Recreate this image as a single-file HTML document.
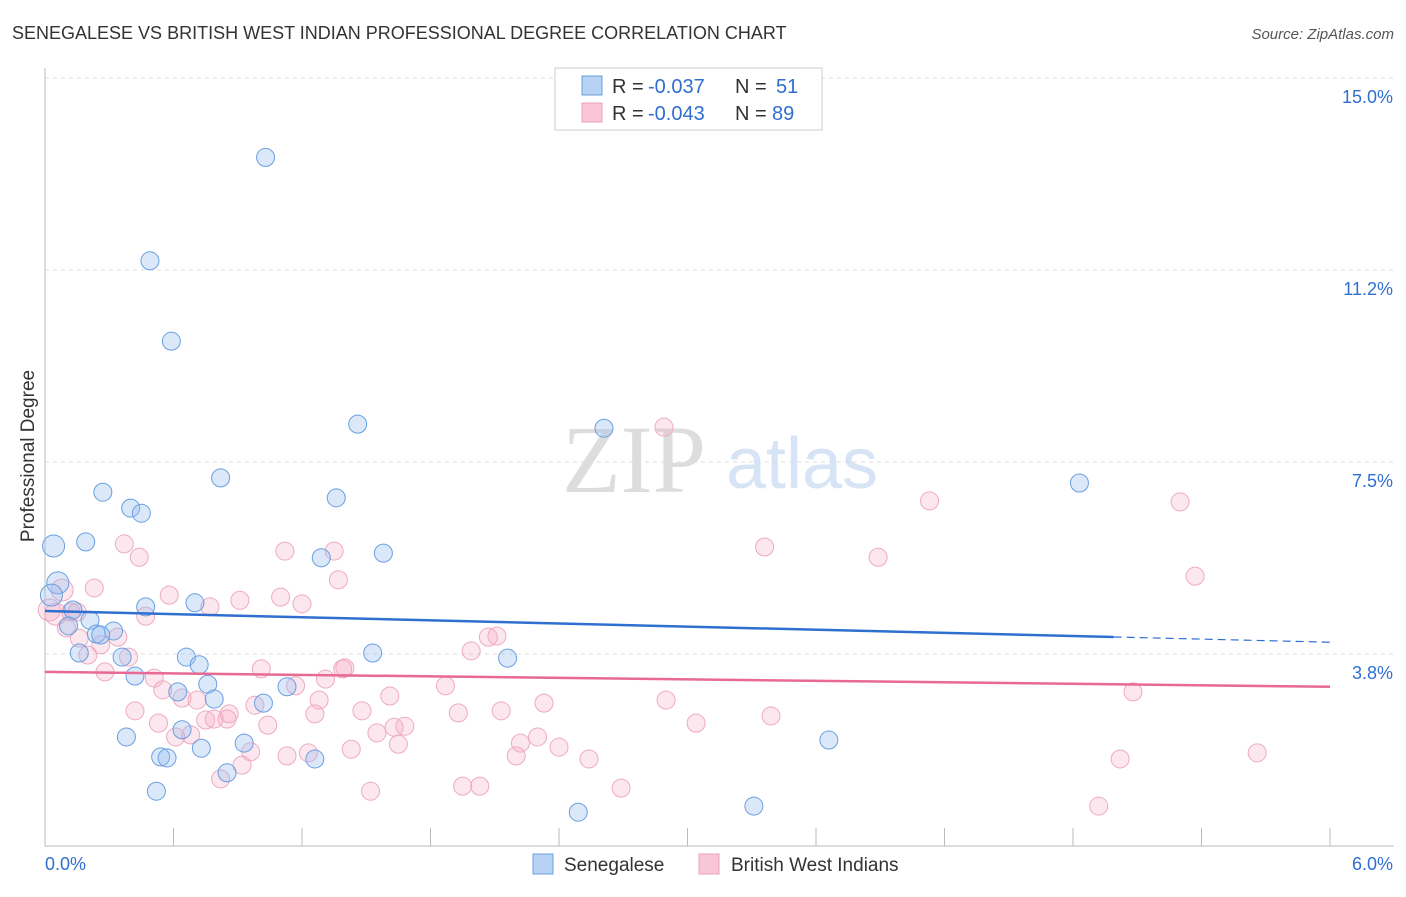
<!DOCTYPE html>
<html><head><meta charset="utf-8"><style>
body{margin:0;background:#fff;font-family:"Liberation Sans",sans-serif}
</style></head><body>
<svg id="chart" width="1406" height="892" font-family="Liberation Sans, sans-serif">
<text x="12" y="39" font-size="18" fill="#333">SENEGALESE VS BRITISH WEST INDIAN PROFESSIONAL DEGREE CORRELATION CHART</text>
<text x="1394" y="39" font-size="15" fill="#555" font-style="italic" text-anchor="end">Source: ZipAtlas.com</text>
<text x="0" y="0" transform="translate(34,456) rotate(-90)" font-size="19" fill="#333" text-anchor="middle">Professional Degree</text>
<g><text x="634" y="492" font-size="96" fill="#ddd" style="font-family:'Liberation Serif',serif" text-anchor="middle">ZIP</text><text x="802" y="488" font-size="72" fill="#d6e4f5" text-anchor="middle">atlas</text></g>
<g id="grid"></g><g id="axes"></g><g id="pts"></g><g id="trend"></g>
<g>
<rect x="555" y="68" width="267" height="62" fill="#fff" stroke="#ccc"/>
<rect x="582" y="76" width="20" height="19" fill="#b8d2f4" stroke="#6a9fe0"/>
<rect x="582" y="103" width="20" height="19" fill="#f8c6d6" stroke="#eaa0b8"/>
<text y="93" font-size="20" fill="#333"><tspan x="612">R =</tspan><tspan x="648" fill="#2f6fd0">-0.037</tspan><tspan x="735">N =</tspan><tspan x="776" fill="#2f6fd0">51</tspan></text>
<text y="120" font-size="20" fill="#333"><tspan x="612">R =</tspan><tspan x="648" fill="#2f6fd0">-0.043</tspan><tspan x="735">N =</tspan><tspan x="772" fill="#2f6fd0">89</tspan></text>
</g>
<g>
<rect x="533" y="854" width="20" height="20" fill="#b8d2f4" stroke="#6a9fe0"/>
<text x="564" y="871" font-size="19" fill="#333">Senegalese</text>
<rect x="699" y="854" width="20" height="20" fill="#f8c6d6" stroke="#eaa0b8"/>
<text x="731" y="871" font-size="19" fill="#333">British West Indians</text>
</g>
</svg>
<script>
const yTicks=[3.8,7.5,11.2,15.0];
const yTickVals=[3.75,7.5,11.25,15];
const xLabels=["0.0%","6.0%"];
const blueX=[1.03,0.49,0.59,1.46,2.61,0.82,4.83,0.27,1.36,0.40,0.45,0.04,0.19,1.58,1.29,0.06,0.03,0.13,0.47,0.70,0.21,0.11,0.24,0.32,0.26,0.16,0.36,0.66,1.53,2.16,0.72,0.42,0.76,1.13,0.62,0.79,1.02,0.64,0.38,0.93,3.66,0.73,0.54,0.57,1.26,0.85,0.52,2.49,3.31];
const blueY=[13.45,11.43,9.86,8.24,8.16,7.19,7.09,6.91,6.80,6.60,6.50,5.86,5.94,5.72,5.63,5.14,4.90,4.61,4.67,4.75,4.41,4.30,4.14,4.20,4.12,3.77,3.69,3.69,3.77,3.67,3.54,3.32,3.16,3.11,3.01,2.87,2.79,2.27,2.13,2.01,2.07,1.91,1.74,1.72,1.70,1.43,1.07,0.66,0.78];
const pinkX=[2.89,4.13,5.30,3.36,3.89,5.37,0.37,0.44,1.12,1.35,1.37,0.23,0.08,0.58,0.91,1.10,1.20,0.77,0.47,0.02,0.05,0.12,0.15,0.10,0.34,0.16,0.26,2.11,2.07,1.99,0.20,0.39,0.28,1.01,1.40,1.39,1.31,0.51,1.17,0.55,1.87,1.61,0.64,0.71,1.28,2.90,5.08,2.33,0.42,0.86,0.98,1.48,2.13,1.93,1.26,0.75,0.79,0.85,0.53,1.04,3.04,3.39,1.68,1.63,1.55,2.30,0.61,0.68,2.22,2.40,1.65,1.43,0.96,1.23,1.13,0.92,2.20,2.54,5.02,5.66,0.82,1.95,2.03,1.52,2.69,4.92];
const pinkY=[8.18,6.74,6.72,5.84,5.64,5.27,5.90,5.64,5.76,5.76,5.20,5.04,5.00,4.90,4.80,4.86,4.73,4.67,4.49,4.61,4.53,4.57,4.57,4.26,4.08,4.06,3.93,4.10,4.08,3.81,3.73,3.69,3.40,3.46,3.48,3.46,3.26,3.28,3.13,3.05,3.13,2.93,2.89,2.85,2.85,2.85,3.01,2.79,2.64,2.58,2.75,2.64,2.64,2.60,2.58,2.46,2.48,2.48,2.40,2.36,2.40,2.54,2.34,2.32,2.21,2.13,2.13,2.17,2.01,1.93,1.99,1.89,1.84,1.82,1.76,1.58,1.76,1.70,1.70,1.82,1.31,1.17,1.17,1.07,1.13,0.78];
const blueTrend=[4.59,3.98];
const pinkTrend=[3.40,3.11];
const NS="http://www.w3.org/2000/svg";
const X0=45,X1=1330,Y0=846,YT=78;
const sx=v=>X0+v/6*(X1-X0);
const sy=v=>Y0-v/15*(Y0-YT);
function mk(tag,attrs,parent){const e=document.createElementNS(NS,tag);for(const k in attrs)e.setAttribute(k,attrs[k]);document.getElementById(parent).appendChild(e);return e;}
yTickVals.forEach((v,i)=>{
 const g=mk('line',{x1:X0,x2:1394,y1:sy(v),y2:sy(v),stroke:'#ddd','stroke-dasharray':'4,4'},'grid');
 
 
 const t=mk('text',{x:1393,y:sy(v)+25,'font-size':18,fill:'#2f6fd0','text-anchor':'end'},'grid');
 t.textContent=yTicks[i].toFixed(1)+'%';
 
 
});
const la=mk('line',{x1:X0,x2:X0,y1:68,y2:Y0,stroke:'#bbb'},'axes');


const ba=mk('line',{x1:X0,x2:1394,y1:Y0,y2:Y0,stroke:'#bbb'},'axes');


for(let i=0;i<=10;i++){const t=mk('line',{x1:sx(i*0.6),x2:sx(i*0.6),y1:828,y2:Y0,stroke:'#bbb'},'axes');
 
 }
[[0,'start',45],[6,'end',1393]].forEach((a,i)=>{const t=mk('text',{x:a[2],y:870,'font-size':18,fill:'#2f6fd0','text-anchor':a[1]},'axes');t.textContent=xLabels[i];
 
 });
pinkX.forEach((v,i)=>{const c=mk('circle',{cx:sx(v),cy:sy(pinkY[i]),r:(v<0.1?11:9),fill:'rgba(245,170,195,0.28)',stroke:'#eeaac2','stroke-width':1},'pts');
 
 });
blueX.forEach((v,i)=>{const c=mk('circle',{cx:sx(v),cy:sy(blueY[i]),r:(v<0.1?11:9),fill:'rgba(150,190,240,0.35)',stroke:'#6a9fe0','stroke-width':1},'pts');
 
 });
const bEnd=4.99, bMid=blueTrend[0]+(blueTrend[1]-blueTrend[0])*bEnd/6;
const l1=mk('line',{x1:sx(0),y1:sy(blueTrend[0]),x2:sx(bEnd),y2:sy(bMid),stroke:'#2f6fd0','stroke-width':2.5},'trend');


const l2=mk('line',{x1:sx(bEnd),y1:sy(bMid),x2:sx(6),y2:sy(blueTrend[1]),stroke:'#2f6fd0','stroke-width':1.2,'stroke-dasharray':'8,5'},'trend');


const l3=mk('line',{x1:sx(0),y1:sy(pinkTrend[0]),x2:sx(6),y2:sy(pinkTrend[1]),stroke:'#e86a94','stroke-width':2.5},'trend');


</script>
</body></html>
